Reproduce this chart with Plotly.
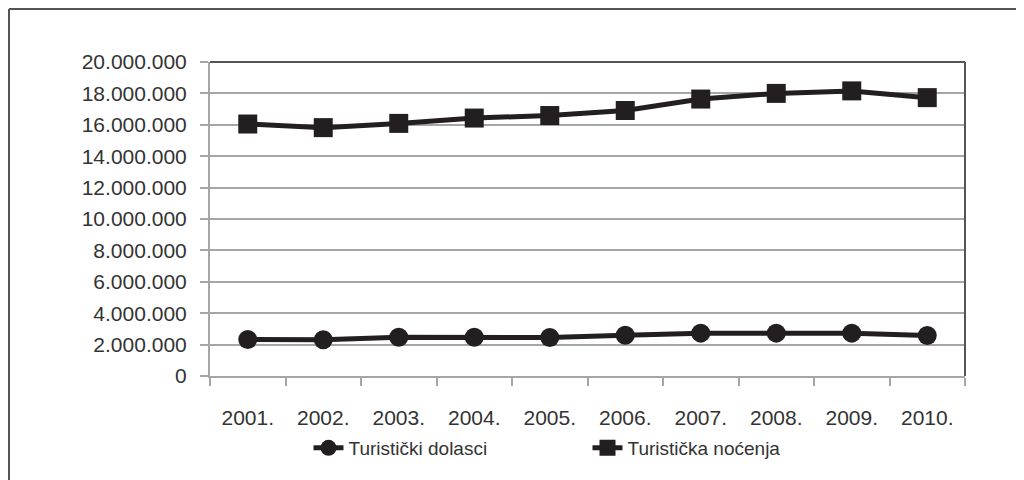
import plotly.graph_objects as go

years = ["2001.", "2002.", "2003.", "2004.", "2005.", "2006.", "2007.", "2008.", "2009.", "2010."]
dolasci = [2330000, 2310000, 2470000, 2470000, 2450000, 2600000, 2730000, 2730000, 2730000, 2580000]
nocenja = [16050000, 15820000, 16090000, 16430000, 16590000, 16910000, 17640000, 18000000, 18160000, 17730000]
y_ticks = list(range(0, 20000001, 2000000))
y_labels = ["{:,}".format(v).replace(",", ".") for v in y_ticks]

FONT = "Liberation Sans Narrow, Arial Narrow, Liberation Sans, Arial, sans-serif"
INK = "#231f20"
GRID = "#a6a6a6"
TXT = "#333333"

# page has an 8px body margin, so figure coords = page coords - 8
W, H = 1016, 472
L, T, R, B = 202, 54, 59, 104
pw, ph = W - L - R, H - T - B
def px(xp): return (xp - 8 - L) / pw
def py(yp): return (H - B - (yp - 8)) / ph

fig = go.Figure()
fig.add_trace(go.Scatter(x=years, y=dolasci, name="Turistički dolasci", mode="lines+markers",
                         line=dict(color=INK, width=5), marker=dict(symbol="circle", size=19, color=INK)))
fig.add_trace(go.Scatter(x=years, y=nocenja, name="Turistička noćenja", mode="lines+markers",
                         line=dict(color=INK, width=5), marker=dict(symbol="square", size=19, color=INK)))

fig.update_layout(
    width=W, height=H,
    margin=dict(l=L, r=R, t=T, b=B),
    paper_bgcolor="white", plot_bgcolor="white",
    font=dict(family=FONT, size=21, color=TXT),
    showlegend=True,
    legend=dict(orientation="h", x=0.5, xanchor="center", y=py(429), yanchor="top",
                font=dict(size=19, family=FONT, color=TXT),
                entrywidth=234, itemsizing="trace"),
    xaxis=dict(type="category", range=[-0.5, 9.5], showgrid=False, showline=True,
               linecolor=GRID, linewidth=2, ticks="outside", tickson="boundaries",
               ticklen=8, tickcolor=GRID, tickwidth=2, ticklabelstandoff=22,
               tickfont=dict(size=21, family=FONT, color=TXT)),
    yaxis=dict(range=[0, 20000000], tickvals=y_ticks, ticktext=y_labels,
               showgrid=True, gridcolor=GRID, gridwidth=2, zeroline=False,
               showline=True, linecolor=GRID, linewidth=2, ticks="outside",
               ticklen=8, tickcolor=GRID, tickwidth=2, ticklabelstandoff=9,
               tickfont=dict(size=21, family=FONT, color=TXT)),
    shapes=[
        dict(type="line", xref="paper", yref="paper", x0=0, x1=1, y0=1, y1=1,
             line=dict(color="#555555", width=2)),
        dict(type="line", xref="paper", yref="paper", x0=1, x1=1, y0=0, y1=1,
             line=dict(color="#555555", width=2)),
        dict(type="line", xref="paper", yref="paper", x0=px(9), x1=px(1040), y0=py(9), y1=py(9),
             line=dict(color="#555555", width=2)),
        dict(type="line", xref="paper", yref="paper", x0=px(9), x1=px(9), y0=py(9), y1=py(500),
             line=dict(color="#555555", width=2)),
    ],
)

fig.write_html("out.html")
